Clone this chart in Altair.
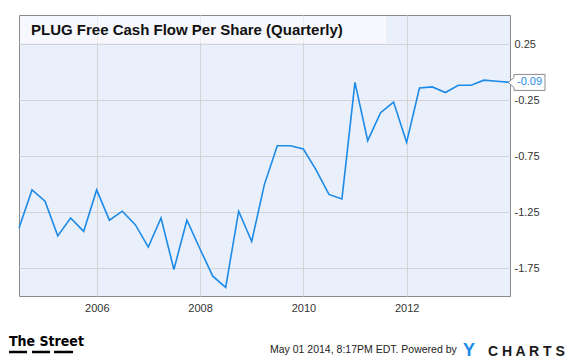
import altair as alt
import pandas as pd

# ---- data ----
quarter_ends = [
    "2004-06-30", "2004-09-30", "2004-12-31",
    "2005-03-31", "2005-06-30", "2005-09-30", "2005-12-31",
    "2006-03-31", "2006-06-30", "2006-09-30", "2006-12-31",
    "2007-03-31", "2007-06-30", "2007-09-30", "2007-12-31",
    "2008-03-31", "2008-06-30", "2008-09-30", "2008-12-31",
    "2009-03-31", "2009-06-30", "2009-09-30", "2009-12-31",
    "2010-03-31", "2010-06-30", "2010-09-30", "2010-12-31",
    "2011-03-31", "2011-06-30", "2011-09-30", "2011-12-31",
    "2012-03-31", "2012-06-30", "2012-09-30", "2012-12-31",
    "2013-03-31", "2013-06-30", "2013-09-30", "2013-12-31",
]
fcf_per_share = [
    -1.39, -1.05, -1.15,
    -1.46, -1.30, -1.42, -1.05,
    -1.32, -1.24, -1.36, -1.56,
    -1.30, -1.76, -1.32, -1.575,
    -1.82, -1.92, -1.24, -1.51,
    -1.00, -0.655, -0.655, -0.685,
    -0.87, -1.09, -1.13, -0.09,
    -0.61, -0.36, -0.265, -0.625,
    -0.14, -0.13, -0.18, -0.115,
    -0.115, -0.07, -0.08, -0.09,
]
y_tick_values = [0.25, -0.25, -0.75, -1.25, -1.75]
x_tick_years = [2006, 2008, 2010, 2012]
title_text = "PLUG Free Cash Flow Per Share (Quarterly)"
footer_date = "May 01 2014, 8:17PM EDT.  Powered by"
logo_left = "The Street"
brand_y = "Y"
brand_rest = "C H A R T S"

# ---- styles ----
BLUE = "#1C8AE6"
FONT = "Liberation Sans"
W, H = 491, 281

df = pd.DataFrame({"date": pd.to_datetime(quarter_ends), "value": fcf_per_share})
last_df = df.tail(1).copy()
last_df["label"] = [("-" if v < 0 else "") + f"{abs(v):.2f}" for v in last_df["value"]]

x_enc = alt.X(
    "date:T",
    scale=alt.Scale(
        domain=[alt.DateTime(year=2004, month=6, date=30),
                alt.DateTime(year=2013, month=12, date=31)],
        nice=False,
    ),
    axis=alt.Axis(
        values=[alt.DateTime(year=y, month=1, date=1) for y in x_tick_years],
        format="%Y", title=None, grid=True, gridColor="#D4D4D4",
        ticks=False, tickSize=0, domain=False, labelPadding=6,
        labelFont=FONT, labelFontSize=11, labelColor="#333333",
    ),
)
y_enc = alt.Y(
    "value:Q",
    scale=alt.Scale(domain=[-1.997, 0.512], nice=False, zero=False),
    axis=alt.Axis(
        orient="right", values=y_tick_values, title=None, grid=True,
        gridColor="#D4D4D4", ticks=False, tickSize=0, domain=False,
        labelPadding=4, labelFont=FONT, labelFontSize=11, labelColor="#333333",
        labelExpr="(datum.value < 0 ? '-' : '') + format(abs(datum.value), '.2f')",
    ),
)

line = alt.Chart(df).mark_line(color=BLUE, strokeWidth=1.6).encode(x=x_enc, y=y_enc)

marker_path = "M-0.08,0 L0.2,-0.25 L0.2,-0.4 L1.75,-0.4 L1.75,0.4 L0.2,0.4 L0.2,0.25 Z"
marker = alt.Chart(last_df).mark_point(
    shape=marker_path, size=1600, fill="white", stroke="#8C8C8C",
    strokeWidth=1, opacity=1, fillOpacity=1,
).encode(x="date:T", y="value:Q")
marker_text = alt.Chart(last_df).mark_text(
    align="left", baseline="middle", dx=7, dy=0, color=BLUE,
    font=FONT, fontSize=11,
).encode(x="date:T", y="value:Q", text="label:N")

one = pd.DataFrame({"t": [title_text]})
title_box = alt.Chart(one).mark_rect(fill="white", opacity=0.55).encode(
    x=alt.value(1), x2=alt.value(367), y=alt.value(1), y2=alt.value(28)
)
title = alt.Chart(one).mark_text(
    align="left", baseline="middle", font=FONT, fontSize=15,
    fontWeight="bold", color="#111111",
).encode(x=alt.value(12), y=alt.value(15), text="t:N")

foot = pd.DataFrame({"a": [logo_left], "b": [footer_date], "c": [brand_y], "d": [brand_rest]})
logo = alt.Chart(foot).mark_text(
    align="left", baseline="alphabetic",
    font="DejaVu Sans Condensed",
    fontSize=14, fontWeight="bold", color="#000000",
).encode(x=alt.value(-10), y=alt.value(331), text="a:N")
dashes = [
    alt.Chart(foot).mark_rule(color="#000000", strokeWidth=2.5).encode(
        x=alt.value(a), x2=alt.value(b), y=alt.value(337))
    for a, b in [(-10, 8), (13, 31), (35, 54)]
]
date_txt = alt.Chart(foot).mark_text(
    align="left", baseline="alphabetic", font=FONT, fontSize=10.5, color="#222222",
).encode(x=alt.value(251), y=alt.value(338), text="b:N")
ybrand = alt.Chart(foot).mark_text(
    align="left", baseline="alphabetic", font=FONT, fontSize=18,
    fontWeight="bold", color=BLUE,
).encode(x=alt.value(444), y=alt.value(341), text="c:N")
rest = alt.Chart(foot).mark_text(
    align="left", baseline="alphabetic", font=FONT, fontSize=14,
    fontWeight="bold", color="#1A1A1A",
).encode(x=alt.value(469), y=alt.value(341), text="d:N")

chart = alt.layer(
    line, marker, marker_text, title_box, title, logo, *dashes, date_txt, ybrand, rest
).properties(
    width=W, height=H,
    padding={"left": 11, "top": 7, "right": 57, "bottom": 66},
    autosize=alt.AutoSizeParams(type="none"),
    background="white",
).configure_view(fill="#EAF0FB", stroke="#8A8A8A", strokeWidth=1)

chart.save("out.html", embed_options={"renderer": "svg", "actions": False})
